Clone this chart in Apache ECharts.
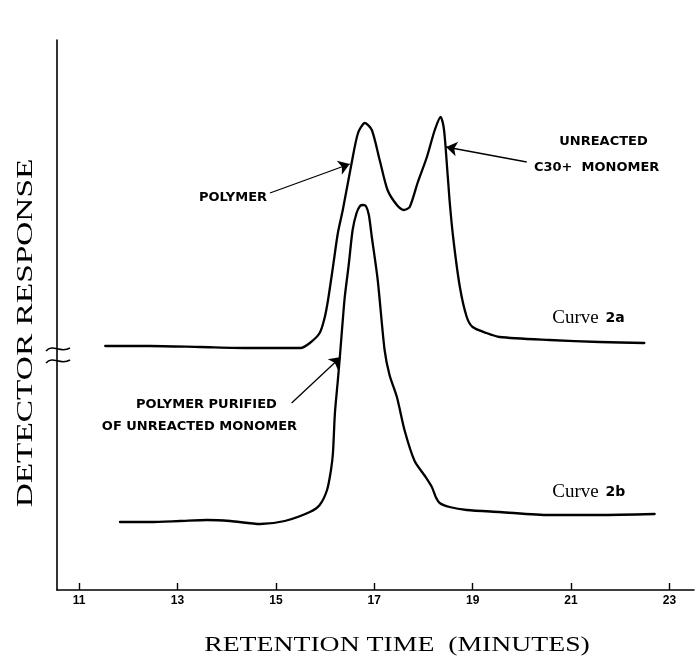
<!DOCTYPE html>
<html>
<head>
<meta charset="utf-8">
<script src="https://cdn.jsdelivr.net/npm/echarts@6/dist/echarts.min.js"></script>
<style>
  html, body { margin: 0; padding: 0; background: #fff; }
  #chart { width: 697px; height: 660px; }
</style>
</head>
<body>
<div id="chart"></div>
<script>
// Curve 2a: crude product, polymer peak followed by unreacted C30+ monomer peak
const time2a = [11.53, 12.44, 13.46, 14.47, 15.28, 15.50, 15.69, 15.89, 15.99, 16.06, 16.16, 16.26, 16.36, 16.54, 16.67, 16.81,
                16.95, 17.11, 17.27, 17.46, 17.60, 17.72, 17.88, 18.07, 18.23, 18.35, 18.41, 18.45, 18.53, 18.61, 18.74,
                18.88, 19.00, 19.28, 19.55, 20.56, 21.58, 22.49];
const resp2a = [24.4, 24.4, 24.3, 24.2, 24.2, 24.2, 24.7, 25.7, 27.2, 29.0, 32.3, 35.7, 38.0, 42.7, 45.7, 46.7,
                46.0, 43.0, 40.0, 38.5, 38.0, 38.3, 40.7, 43.3, 46.0, 47.3, 46.3, 44.3, 39.0, 35.0, 30.3,
                27.3, 26.3, 25.7, 25.3, 25.0, 24.8, 24.7];

// Curve 2b: polymer purified of unreacted monomer
const time2b = [11.83, 12.44, 13.05, 13.60, 14.07, 14.68, 15.18, 15.69, 15.89, 16.04, 16.12, 16.16, 16.20, 16.26, 16.30,
                16.36, 16.40, 16.48, 16.56, 16.64, 16.71, 16.77, 16.83, 16.89, 16.95, 17.07, 17.21, 17.31, 17.46,
                17.62, 17.82, 18.03, 18.17, 18.25, 18.33, 18.53, 18.88, 19.55, 20.56, 21.58, 22.70];
const resp2b = [6.8, 6.8, 6.9, 7.0, 6.9, 6.6, 6.9, 7.8, 8.5, 10.0, 12.0, 13.7, 17.7, 21.0, 23.3,
                27.0, 29.3, 32.5, 36.0, 37.7, 38.4, 38.5, 38.4, 37.5, 35.3, 31.0, 24.0, 21.5, 19.3,
                15.9, 12.9, 11.4, 10.3, 9.3, 8.7, 8.3, 8.0, 7.8, 7.5, 7.5, 7.6];

const tickMinutes = [11, 13, 15, 17, 19, 21, 23];
const timeRange = [10.55, 23.5];
const respRange = [0, 55];
const axisBreakResp = 23.5;

// Arrows: [fromTime, fromResp, toTime, toResp]
const arrowPolymer = [14.88, 39.7, 16.50, 42.6];
const arrowMonomer = [20.10, 42.8, 18.46, 44.3];
const arrowPurified = [15.32, 18.7, 16.32, 23.3];

// Text labels: [text, time, response, align]
const annotations = [
  ['POLYMER', 14.82, 39.2, 'right'],
  ['UNREACTED', 21.66, 44.8, 'center'],
  ['C30+  MONOMER', 21.52, 42.2, 'center'],
  ['POLYMER PURIFIED', 15.02, 18.5, 'right'],
  ['OF UNREACTED MONOMER', 15.43, 16.3, 'right']
];
const curveLabels = [
  ['Curve', '2a', 20.62, 27.2],
  ['Curve', '2b', 20.62, 9.8]
];

const zip = (xs, ys) => xs.map((x, i) => [x, ys[i]]);
const arrowPair = a => [{ coord: [a[0], a[1]] }, { coord: [a[2], a[3]] }];

const chart = echarts.init(document.getElementById('chart'), null, { renderer: 'canvas' });

const curveStyle = { color: '#000', width: 2.3, cap: 'round', join: 'round' };

chart.setOption({
  animation: false,
  backgroundColor: '#fff',
  grid: { left: 57, top: 40, width: 637, bottom: 70, containLabel: false },
  xAxis: {
    type: 'value',
    min: timeRange[0],
    max: timeRange[1],
    axisLine: { show: true, onZero: false, lineStyle: { color: '#000', width: 1.6 } },
    axisTick: { show: true, inside: true, length: 7, customValues: tickMinutes, lineStyle: { color: '#000', width: 1.4 } },
    axisLabel: {
      show: true, customValues: tickMinutes, margin: 5, color: '#000',
      fontFamily: 'Liberation Sans Narrow, Liberation Sans', fontWeight: 'bold', fontSize: 12
    },
    splitLine: { show: false }
  },
  yAxis: {
    type: 'value',
    min: respRange[0],
    max: respRange[1],
    axisLine: { show: true, onZero: false, lineStyle: { color: '#000', width: 1.6 } },
    axisTick: { show: false },
    axisLabel: { show: false },
    splitLine: { show: false }
  },
  series: [
    {
      name: 'Curve 2a',
      type: 'line',
      data: zip(time2a, resp2a),
      smooth: 0.25,
      showSymbol: false,
      lineStyle: curveStyle,
      markLine: {
        silent: true,
        symbol: ['none', 'arrow'],
        symbolSize: 11,
        label: { show: false },
        lineStyle: { color: '#000', width: 1.3, type: 'solid' },
        data: [arrowPair(arrowPolymer), arrowPair(arrowMonomer), arrowPair(arrowPurified)]
      }
    },
    {
      name: 'Curve 2b',
      type: 'line',
      data: zip(time2b, resp2b),
      smooth: 0.25,
      showSymbol: false,
      lineStyle: curveStyle
    }
  ]
});

// Texts and the axis break, placed from data coordinates
const px = (t, v) => chart.convertToPixel({ gridIndex: 0 }, [t, v]);
const graphics = [];

annotations.forEach(([text, t, v, align]) => {
  const [x, y] = px(t, v);
  graphics.push({
    type: 'text', x, y, silent: true,
    style: { text, font: 'bold 13px "DejaVu Sans"', fill: '#000', align, verticalAlign: 'middle' }
  });
});

curveLabels.forEach(([word, tag, t, v]) => {
  const [x, y] = px(t, v);
  graphics.push({
    type: 'text', x, y, silent: true,
    style: {
      text: '{a|' + word + '}  {b|' + tag + '}',
      align: 'left', verticalAlign: 'middle',
      rich: {
        a: { font: '19px "Liberation Serif"', fill: '#000' },
        b: { font: 'bold 14px "DejaVu Sans"', fill: '#000' }
      }
    }
  });
});

// Break marks on the response axis
const [axisX, breakY] = px(timeRange[0], axisBreakResp);
graphics.push({
  type: 'rect', silent: true,
  shape: { x: axisX - 3, y: breakY - 5, width: 6, height: 10 },
  style: { fill: '#fff' }
});
[-6, 6].forEach(dy => {
  graphics.push({
    type: 'bezierCurve', silent: true,
    shape: {
      x1: axisX - 11, y1: breakY + dy + 2,
      cpx1: axisX - 4, cpy1: breakY + dy - 6,
      cpx2: axisX + 3, cpy2: breakY + dy + 5,
      x2: axisX + 13, y2: breakY + dy - 1
    },
    style: { stroke: '#000', lineWidth: 1.6, fill: null }
  });
});

// Axis titles
graphics.push({
  type: 'text', x: 397, y: 645, scaleX: 1.32, silent: true,
  style: { text: 'RETENTION TIME  (MINUTES)', font: '21px "Liberation Serif"', fill: '#000', align: 'center', verticalAlign: 'middle' }
});
graphics.push({
  type: 'text', x: 26, y: 333, rotation: Math.PI / 2, scaleX: 1.45, silent: true,
  style: { text: 'DETECTOR RESPONSE', font: '23px "Liberation Serif"', fill: '#000', align: 'center', verticalAlign: 'middle' }
});

chart.setOption({ graphic: graphics });
</script>
</body>
</html>
